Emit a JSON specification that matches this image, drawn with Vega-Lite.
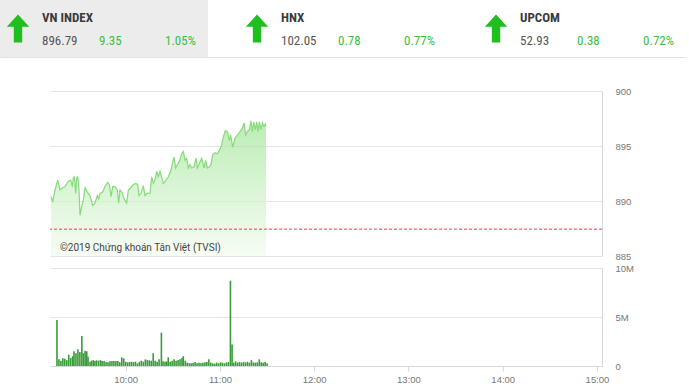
{
  "$schema": "https://vega.github.io/schema/vega-lite/v6.json",
  "padding": 0,
  "background": "white",
  "config": {
    "view": {"stroke": null},
    "axis": {"labelFont": "Liberation Sans", "labelFontSize": 9.5, "labelColor": "#777777", "domainColor": "#d5d9de", "gridColor": "#e4e4e4", "tickColor": "#d5d9de", "title": null}
  },
  "datasets": {
    "header": [
      {"name": "VN INDEX", "value": 896.79, "change": 9.35, "pct": 0.0105},
      {"name": "HNX", "value": 102.05, "change": 0.78, "pct": 0.0077},
      {"name": "UPCOM", "value": 52.93, "change": 0.38, "pct": 0.0072}
    ],
    "price": [
      {"t": "2019-01-01T09:15:38", "v": 890.4}, {"t": "2019-01-01T09:16:40", "v": 889.9}, {"t": "2019-01-01T09:18:08", "v": 891.0},
      {"t": "2019-01-01T09:19:48", "v": 891.9}, {"t": "2019-01-01T09:21:15", "v": 891.0}, {"t": "2019-01-01T09:22:55", "v": 891.2},
      {"t": "2019-01-01T09:24:23", "v": 891.3}, {"t": "2019-01-01T09:26:28", "v": 891.8}, {"t": "2019-01-01T09:27:55", "v": 891.9},
      {"t": "2019-01-01T09:28:58", "v": 891.3}, {"t": "2019-01-01T09:29:35", "v": 892.1}, {"t": "2019-01-01T09:30:13", "v": 892.2},
      {"t": "2019-01-01T09:31:03", "v": 890.7}, {"t": "2019-01-01T09:31:40", "v": 892.1}, {"t": "2019-01-01T09:32:18", "v": 892.2},
      {"t": "2019-01-01T09:33:08", "v": 891.0}, {"t": "2019-01-01T09:33:45", "v": 888.7}, {"t": "2019-01-01T09:34:48", "v": 889.5},
      {"t": "2019-01-01T09:35:50", "v": 890.1}, {"t": "2019-01-01T09:36:53", "v": 891.2}, {"t": "2019-01-01T09:38:20", "v": 890.8},
      {"t": "2019-01-01T09:40:00", "v": 890.5}, {"t": "2019-01-01T09:41:40", "v": 889.6}, {"t": "2019-01-01T09:43:08", "v": 889.8},
      {"t": "2019-01-01T09:44:35", "v": 890.5}, {"t": "2019-01-01T09:45:25", "v": 890.2}, {"t": "2019-01-01T09:46:15", "v": 890.7},
      {"t": "2019-01-01T09:47:43", "v": 890.8}, {"t": "2019-01-01T09:49:23", "v": 891.3}, {"t": "2019-01-01T09:51:03", "v": 891.7},
      {"t": "2019-01-01T09:52:05", "v": 891.5}, {"t": "2019-01-01T09:53:08", "v": 890.4}, {"t": "2019-01-01T09:54:10", "v": 891.3},
      {"t": "2019-01-01T09:55:38", "v": 891.3}, {"t": "2019-01-01T09:57:05", "v": 891.0}, {"t": "2019-01-01T09:57:55", "v": 889.8},
      {"t": "2019-01-01T09:58:45", "v": 891.0}, {"t": "2019-01-01T10:00:00", "v": 890.8}, {"t": "2019-01-01T10:01:15", "v": 890.2},
      {"t": "2019-01-01T10:02:55", "v": 889.8}, {"t": "2019-01-01T10:03:58", "v": 891.0}, {"t": "2019-01-01T10:05:25", "v": 891.2},
      {"t": "2019-01-01T10:07:05", "v": 891.5}, {"t": "2019-01-01T10:08:33", "v": 891.6}, {"t": "2019-01-01T10:09:48", "v": 891.5},
      {"t": "2019-01-01T10:10:38", "v": 890.5}, {"t": "2019-01-01T10:11:53", "v": 890.7}, {"t": "2019-01-01T10:13:20", "v": 891.4},
      {"t": "2019-01-01T10:14:23", "v": 890.5}, {"t": "2019-01-01T10:15:50", "v": 890.7}, {"t": "2019-01-01T10:17:30", "v": 890.7},
      {"t": "2019-01-01T10:18:33", "v": 892.2}, {"t": "2019-01-01T10:19:35", "v": 891.6}, {"t": "2019-01-01T10:20:38", "v": 891.9},
      {"t": "2019-01-01T10:21:40", "v": 892.7}, {"t": "2019-01-01T10:22:43", "v": 892.2}, {"t": "2019-01-01T10:23:45", "v": 892.7},
      {"t": "2019-01-01T10:24:48", "v": 892.2}, {"t": "2019-01-01T10:25:50", "v": 891.6}, {"t": "2019-01-01T10:27:30", "v": 891.9},
      {"t": "2019-01-01T10:28:58", "v": 892.2}, {"t": "2019-01-01T10:30:25", "v": 892.7}, {"t": "2019-01-01T10:31:28", "v": 893.4},
      {"t": "2019-01-01T10:32:30", "v": 894.0}, {"t": "2019-01-01T10:33:33", "v": 893.0}, {"t": "2019-01-01T10:34:35", "v": 893.3},
      {"t": "2019-01-01T10:35:50", "v": 893.6}, {"t": "2019-01-01T10:37:18", "v": 894.3}, {"t": "2019-01-01T10:38:20", "v": 894.5},
      {"t": "2019-01-01T10:39:23", "v": 893.7}, {"t": "2019-01-01T10:40:25", "v": 893.9}, {"t": "2019-01-01T10:41:28", "v": 893.0},
      {"t": "2019-01-01T10:42:30", "v": 893.3}, {"t": "2019-01-01T10:43:33", "v": 893.0}, {"t": "2019-01-01T10:45:00", "v": 893.1},
      {"t": "2019-01-01T10:46:15", "v": 893.9}, {"t": "2019-01-01T10:47:05", "v": 893.0}, {"t": "2019-01-01T10:48:20", "v": 893.4},
      {"t": "2019-01-01T10:49:48", "v": 893.9}, {"t": "2019-01-01T10:51:15", "v": 893.0}, {"t": "2019-01-01T10:52:18", "v": 893.7},
      {"t": "2019-01-01T10:53:20", "v": 893.0}, {"t": "2019-01-01T10:54:35", "v": 893.1}, {"t": "2019-01-01T10:55:38", "v": 893.3},
      {"t": "2019-01-01T10:56:40", "v": 894.2}, {"t": "2019-01-01T10:58:08", "v": 894.4}, {"t": "2019-01-01T10:59:35", "v": 894.3},
      {"t": "2019-01-01T11:01:15", "v": 894.7}, {"t": "2019-01-01T11:02:18", "v": 895.1}, {"t": "2019-01-01T11:03:20", "v": 895.8},
      {"t": "2019-01-01T11:04:35", "v": 896.4}, {"t": "2019-01-01T11:05:50", "v": 896.3}, {"t": "2019-01-01T11:07:05", "v": 895.5},
      {"t": "2019-01-01T11:07:55", "v": 896.0}, {"t": "2019-01-01T11:09:10", "v": 894.9}, {"t": "2019-01-01T11:10:38", "v": 895.7},
      {"t": "2019-01-01T11:12:05", "v": 896.0}, {"t": "2019-01-01T11:13:45", "v": 896.3}, {"t": "2019-01-01T11:15:13", "v": 896.6},
      {"t": "2019-01-01T11:16:15", "v": 897.1}, {"t": "2019-01-01T11:17:18", "v": 896.0}, {"t": "2019-01-01T11:18:20", "v": 896.3},
      {"t": "2019-01-01T11:19:35", "v": 896.5}, {"t": "2019-01-01T11:20:38", "v": 897.3}, {"t": "2019-01-01T11:21:28", "v": 896.3},
      {"t": "2019-01-01T11:22:18", "v": 897.2}, {"t": "2019-01-01T11:23:20", "v": 896.5}, {"t": "2019-01-01T11:24:10", "v": 897.2},
      {"t": "2019-01-01T11:25:00", "v": 896.3}, {"t": "2019-01-01T11:25:50", "v": 897.2}, {"t": "2019-01-01T11:26:53", "v": 896.5},
      {"t": "2019-01-01T11:27:43", "v": 897.1}, {"t": "2019-01-01T11:28:45", "v": 896.8}, {"t": "2019-01-01T11:29:35", "v": 897.0},
      {"t": "2019-01-01T11:30:00", "v": 896.79}
    ],
    "volume": [
      {"t": "2019-01-01T09:16:15", "vol": 4700000}, {"t": "2019-01-01T09:17:30", "vol": 680000}, {"t": "2019-01-01T09:18:45", "vol": 540000},
      {"t": "2019-01-01T09:20:00", "vol": 780000}, {"t": "2019-01-01T09:21:15", "vol": 750000}, {"t": "2019-01-01T09:22:30", "vol": 600000},
      {"t": "2019-01-01T09:23:45", "vol": 1160000}, {"t": "2019-01-01T09:25:00", "vol": 820000}, {"t": "2019-01-01T09:26:15", "vol": 1000000},
      {"t": "2019-01-01T09:27:05", "vol": 1500000}, {"t": "2019-01-01T09:28:20", "vol": 1300000}, {"t": "2019-01-01T09:29:35", "vol": 1700000},
      {"t": "2019-01-01T09:30:50", "vol": 1430000}, {"t": "2019-01-01T09:32:05", "vol": 3060000}, {"t": "2019-01-01T09:33:08", "vol": 1300000},
      {"t": "2019-01-01T09:34:10", "vol": 1560000}, {"t": "2019-01-01T09:35:13", "vol": 1500000}, {"t": "2019-01-01T09:36:03", "vol": 950000},
      {"t": "2019-01-01T09:37:18", "vol": 440000}, {"t": "2019-01-01T09:38:20", "vol": 540000}, {"t": "2019-01-01T09:39:23", "vol": 600000},
      {"t": "2019-01-01T09:40:25", "vol": 500000}, {"t": "2019-01-01T09:41:28", "vol": 580000}, {"t": "2019-01-01T09:42:43", "vol": 540000},
      {"t": "2019-01-01T09:43:58", "vol": 600000}, {"t": "2019-01-01T09:45:00", "vol": 500000}, {"t": "2019-01-01T09:46:15", "vol": 500000},
      {"t": "2019-01-01T09:47:30", "vol": 400000}, {"t": "2019-01-01T09:48:45", "vol": 370000}, {"t": "2019-01-01T09:50:00", "vol": 480000},
      {"t": "2019-01-01T09:51:15", "vol": 500000}, {"t": "2019-01-01T09:52:30", "vol": 500000}, {"t": "2019-01-01T09:53:45", "vol": 500000},
      {"t": "2019-01-01T09:55:00", "vol": 500000}, {"t": "2019-01-01T09:56:15", "vol": 370000}, {"t": "2019-01-01T09:57:30", "vol": 880000},
      {"t": "2019-01-01T09:58:45", "vol": 780000}, {"t": "2019-01-01T10:00:00", "vol": 440000}, {"t": "2019-01-01T10:01:15", "vol": 370000},
      {"t": "2019-01-01T10:02:30", "vol": 400000}, {"t": "2019-01-01T10:03:45", "vol": 440000}, {"t": "2019-01-01T10:05:00", "vol": 400000},
      {"t": "2019-01-01T10:06:15", "vol": 440000}, {"t": "2019-01-01T10:07:30", "vol": 270000}, {"t": "2019-01-01T10:08:45", "vol": 440000},
      {"t": "2019-01-01T10:10:00", "vol": 540000}, {"t": "2019-01-01T10:11:15", "vol": 440000}, {"t": "2019-01-01T10:12:30", "vol": 680000},
      {"t": "2019-01-01T10:13:45", "vol": 600000}, {"t": "2019-01-01T10:15:00", "vol": 580000}, {"t": "2019-01-01T10:16:15", "vol": 540000},
      {"t": "2019-01-01T10:17:30", "vol": 1300000}, {"t": "2019-01-01T10:18:45", "vol": 540000}, {"t": "2019-01-01T10:20:00", "vol": 440000},
      {"t": "2019-01-01T10:21:15", "vol": 680000}, {"t": "2019-01-01T10:22:43", "vol": 3400000}, {"t": "2019-01-01T10:23:45", "vol": 480000},
      {"t": "2019-01-01T10:25:00", "vol": 440000}, {"t": "2019-01-01T10:26:03", "vol": 480000}, {"t": "2019-01-01T10:27:05", "vol": 880000},
      {"t": "2019-01-01T10:28:20", "vol": 440000}, {"t": "2019-01-01T10:29:35", "vol": 540000}, {"t": "2019-01-01T10:30:50", "vol": 680000},
      {"t": "2019-01-01T10:32:05", "vol": 540000}, {"t": "2019-01-01T10:33:20", "vol": 600000}, {"t": "2019-01-01T10:34:35", "vol": 680000},
      {"t": "2019-01-01T10:35:50", "vol": 820000}, {"t": "2019-01-01T10:36:40", "vol": 1000000}, {"t": "2019-01-01T10:37:55", "vol": 540000},
      {"t": "2019-01-01T10:39:10", "vol": 340000}, {"t": "2019-01-01T10:40:25", "vol": 270000}, {"t": "2019-01-01T10:41:40", "vol": 270000},
      {"t": "2019-01-01T10:42:55", "vol": 300000}, {"t": "2019-01-01T10:44:10", "vol": 400000}, {"t": "2019-01-01T10:45:25", "vol": 270000},
      {"t": "2019-01-01T10:46:40", "vol": 340000}, {"t": "2019-01-01T10:47:55", "vol": 270000}, {"t": "2019-01-01T10:49:10", "vol": 340000},
      {"t": "2019-01-01T10:50:25", "vol": 370000}, {"t": "2019-01-01T10:51:40", "vol": 400000}, {"t": "2019-01-01T10:52:55", "vol": 680000},
      {"t": "2019-01-01T10:54:10", "vol": 340000}, {"t": "2019-01-01T10:55:25", "vol": 270000}, {"t": "2019-01-01T10:56:40", "vol": 240000},
      {"t": "2019-01-01T10:57:55", "vol": 340000}, {"t": "2019-01-01T10:59:10", "vol": 270000}, {"t": "2019-01-01T11:00:25", "vol": 370000},
      {"t": "2019-01-01T11:01:40", "vol": 340000}, {"t": "2019-01-01T11:02:55", "vol": 270000}, {"t": "2019-01-01T11:04:10", "vol": 370000},
      {"t": "2019-01-01T11:05:25", "vol": 400000}, {"t": "2019-01-01T11:06:40", "vol": 8700000}, {"t": "2019-01-01T11:07:43", "vol": 2200000},
      {"t": "2019-01-01T11:08:45", "vol": 340000}, {"t": "2019-01-01T11:10:00", "vol": 480000}, {"t": "2019-01-01T11:11:15", "vol": 340000},
      {"t": "2019-01-01T11:12:30", "vol": 400000}, {"t": "2019-01-01T11:13:45", "vol": 340000}, {"t": "2019-01-01T11:15:00", "vol": 400000},
      {"t": "2019-01-01T11:16:15", "vol": 370000}, {"t": "2019-01-01T11:17:30", "vol": 440000}, {"t": "2019-01-01T11:18:45", "vol": 340000},
      {"t": "2019-01-01T11:20:00", "vol": 600000}, {"t": "2019-01-01T11:21:15", "vol": 370000}, {"t": "2019-01-01T11:22:30", "vol": 340000},
      {"t": "2019-01-01T11:23:45", "vol": 370000}, {"t": "2019-01-01T11:25:00", "vol": 680000}, {"t": "2019-01-01T11:26:15", "vol": 370000},
      {"t": "2019-01-01T11:27:30", "vol": 340000}, {"t": "2019-01-01T11:28:45", "vol": 400000}, {"t": "2019-01-01T11:30:00", "vol": 270000}
    ]
  },
  "bounds": "flush",
  "spacing": 34,
  "vconcat": [
    {
      "width": 689,
      "height": 57,
      "data": {"name": "header"},
      "encoding": {
        "x": {"field": "name", "type": "nominal", "sort": null, "bandPosition": 0,
          "scale": {"range": [0, 686], "paddingInner": 0.13, "paddingOuter": 0},
          "axis": {"labels": false, "ticks": false, "grid": false, "domain": true, "domainColor": "#e3e3e3", "title": null}}
      },
      "layer": [
        {"transform": [{"filter": "datum.name == 'VN INDEX'"}], "mark": {"type": "bar", "color": "#ececec"}, "encoding": {"x": {"field": "name", "type": "nominal", "sort": null}}},
        {"mark": {"type": "point", "filled": true, "opacity": 1, "color": "#1fbf1f", "size": 784, "xOffset": 18, "yOffset": 0,
          "shape": "M0,-1L0.8,-0.12L0.3,-0.12L0.3,1L-0.3,1L-0.3,-0.12L-0.8,-0.12Z"}},
        {"mark": {"type": "text", "align": "left", "baseline": "middle", "dx": 42, "dy": -11, "font": "Roboto Condensed, Liberation Sans Narrow, Roboto", "fontSize": 13, "fontWeight": "bold", "color": "#3a3a3a"},
          "encoding": {"text": {"field": "name"}}},
        {"mark": {"type": "text", "align": "left", "baseline": "middle", "dx": 42, "dy": 12, "font": "Roboto Condensed, Liberation Sans Narrow, Roboto", "fontSize": 13, "color": "#555555"},
          "encoding": {"text": {"field": "value", "format": ".2f"}}},
        {"mark": {"type": "text", "align": "left", "baseline": "middle", "dx": 99, "dy": 12, "font": "Roboto Condensed, Liberation Sans Narrow, Roboto", "fontSize": 13, "color": "#3cbf3c"},
          "encoding": {"text": {"field": "change", "format": ".2f"}}},
        {"mark": {"type": "text", "align": "left", "baseline": "middle", "dx": 165, "dy": 12, "font": "Roboto Condensed, Liberation Sans Narrow, Roboto", "fontSize": 13, "color": "#3cbf3c"},
          "encoding": {"text": {"field": "pct", "format": ".2%"}}}
      ]
    },
    {
      "bounds": "flush",
      "spacing": 10,
      "hconcat": [
        {"width": 40, "height": 10, "data": {"values": [{}]}, "mark": {"type": "point", "opacity": 0}, "encoding": {}},
        {
          "bounds": "flush",
          "spacing": 12,
          "vconcat": [
            {
              "width": 552,
              "height": 165,
              "layer": [
                {
                  "data": {"name": "price"},
                  "mark": {"type": "area", "clip": true,
                    "color": {"gradient": "linear", "x1": 1, "y1": 1, "x2": 1, "y2": 0,
                      "stops": [{"offset": 0, "color": "#f3fbf1"}, {"offset": 1, "color": "#9fe595"}]},
                    "line": {"color": "#86db7a", "strokeWidth": 1.2}},
                  "encoding": {
                    "x": {"field": "t", "type": "temporal",
                      "scale": {"domain": [{"year": 2019, "month": 1, "date": 1, "hours": 9, "minutes": 15}, {"year": 2019, "month": 1, "date": 1, "hours": 15}]},
                      "axis": null},
                    "y": {"field": "v", "type": "quantitative", "scale": {"domain": [885, 900], "zero": false, "nice": false},
                      "axis": {"orient": "right", "values": [885, 890, 895, 900], "ticks": false, "labelPadding": 13, "grid": true, "domain": true}},
                    "y2": {"datum": 885}
                  }
                },
                {
                  "data": {"values": [{"prev": 887.44}]},
                  "mark": {"type": "rule", "color": "#e8413c", "strokeDash": [3, 2], "strokeWidth": 1},
                  "encoding": {"y": {"field": "prev", "type": "quantitative"}}
                },
                {
                  "data": {"values": [{"label": "©2019 Chứng khoán Tân Việt (TVSI)"}]},
                  "mark": {"type": "text", "align": "left", "baseline": "alphabetic", "dx": 10, "dy": -5, "font": "Roboto", "fontSize": 10, "color": "#444444"},
                  "encoding": {
                    "text": {"field": "label"},
                    "x": {"datum": {"year": 2019, "month": 1, "date": 1, "hours": 9, "minutes": 15}, "type": "temporal"},
                    "y": {"datum": 885, "type": "quantitative"}
                  }
                }
              ]
            },
            {
              "width": 552,
              "height": 98,
              "data": {"name": "volume"},
              "mark": {"type": "bar", "color": "#3a9a3a", "width": 1.6},
              "encoding": {
                "x": {"field": "t", "type": "temporal",
                  "scale": {"domain": [{"year": 2019, "month": 1, "date": 1, "hours": 9, "minutes": 15}, {"year": 2019, "month": 1, "date": 1, "hours": 15}]},
                  "axis": {"values": [
                    {"year": 2019, "month": 1, "date": 1, "hours": 10}, {"year": 2019, "month": 1, "date": 1, "hours": 11},
                    {"year": 2019, "month": 1, "date": 1, "hours": 12}, {"year": 2019, "month": 1, "date": 1, "hours": 13},
                    {"year": 2019, "month": 1, "date": 1, "hours": 14}, {"year": 2019, "month": 1, "date": 1, "hours": 15}],
                    "format": "%H:%M", "grid": false, "tickSize": 5, "labelPadding": 3, "labelFlush": false, "labelOverlap": false}},
                "y": {"field": "vol", "type": "quantitative", "scale": {"domain": [0, 10000000], "nice": false},
                  "axis": {"orient": "right", "values": [0, 5000000, 10000000], "labelExpr": "datum.value == 0 ? '0' : (datum.value / 1000000) + 'M'", "ticks": false, "labelPadding": 13, "grid": true, "domain": true}}
              }
            }
          ]
        }
      ]
    }
  ]
}
